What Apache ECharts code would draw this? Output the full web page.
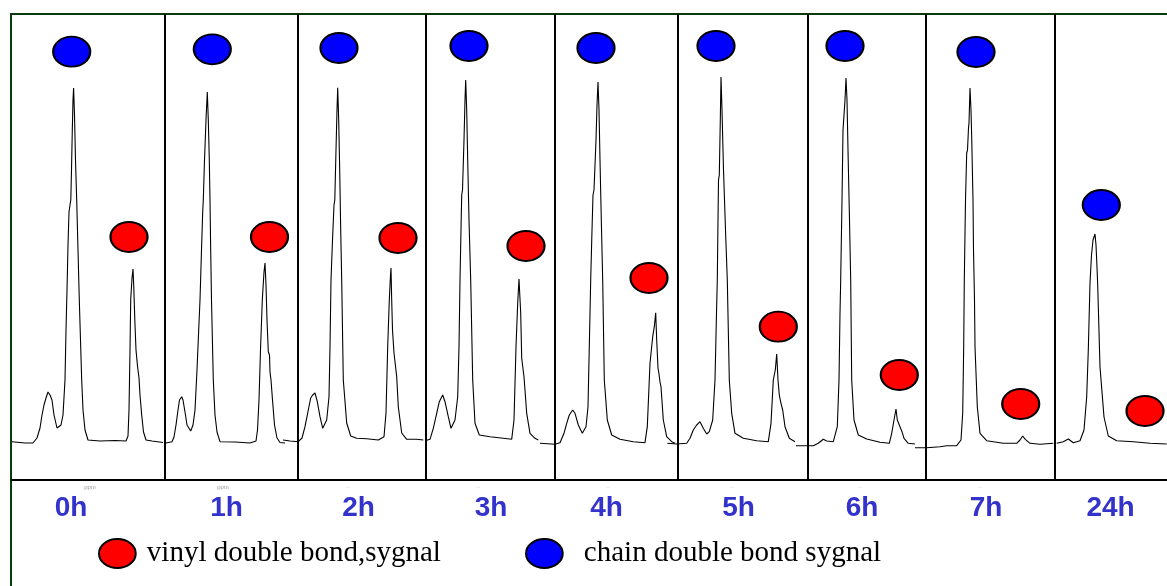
<!DOCTYPE html>
<html style="height: 100%">
<head>
    <meta charset="utf-8">
    <script src="https://cdn.jsdelivr.net/npm/echarts@6/dist/echarts.min.js"></script>
</head>
<body style="height: 100%; margin: 0; background: #fff">
    <div id="container" style="width: 1167px; height: 586px"></div>
    <script type="text/javascript">
        // trace position (x) and intensity above baseline (y)
        const spectrum0h = [[1,-1.7],[14,-3],[22,-3],[26,2],[29,12],[31,25],[33,35],[35,42],[37,48],[39,45],[41,40],[43,25],[46,12],[48,10],[50,15],[52,25],[54,60],[55,110],[56,150],[57,195],[58,228],[59,235],[59.8,240],[60.5,270],[61.3,310],[62,340],[62.6,352],[63.5,325],[64.5,280],[65.7,240],[67,190],[68.3,140],[69.5,100],[70.7,60],[72,30],[74,10],[77,0],[89,-1],[104,-0.5],[115,-1],[117,4],[118,30],[119,90],[119.7,140],[121,162],[122,171],[122.7,155],[124,115],[125,90],[126,88],[126.5,74],[127.5,72],[128,62],[129,45],[130.7,25],[132.5,8],[135,0],[141,-1],[152,-2.5]];
        const spectrum1h = [[155,-3],[161,-1.7],[163,3],[165,15],[167,30],[168.5,40],[170.7,43.3],[172,40],[174,28],[176,15],[179.7,9],[182,15],[184,30],[186,70],[187.7,110],[189,140],[190.5,190],[191.7,228],[192.3,240],[193.5,280],[195,320],[196.3,348],[197.3,320],[198.3,280],[199,240],[199.7,190],[200.5,140],[202.3,60],[204,25],[206,8],[209,-1.7],[224,-2],[239,-3],[245,-1],[246.5,10],[248,40],[249.5,90],[251.3,140],[253,168],[254,177],[255,155],[256,120],[257.3,88.3],[258.5,85],[259,68],[260,60],[261.5,40],[263.5,15],[266,2],[269,-2.5],[274,-3]];
        const spectrum2h = [[272,0],[279,-1],[287.3,-1.7],[291,2],[294,13.3],[297.3,30],[299.7,42],[301.7,45],[304,47],[306.3,38.3],[309,23.3],[311.7,11.7],[315.7,20],[318,43.3],[319,93.3],[320,160],[321.5,200],[323,235],[323.8,240],[325,290],[326,330],[326.7,352.3],[327.7,320],[328.7,270],[329.7,210],[330.7,160],[332.3,60],[335.7,17],[339.7,4],[345.7,1.7],[355.7,1.3],[367.3,0],[373,3.3],[375,27],[376.7,93.3],[378.3,140],[379.5,165],[380,172],[380.7,140],[381.5,110],[383,87],[384,85],[385.7,63.3],[387.3,33.3],[390.7,7],[395.7,0.7],[405.7,0.7],[412.3,0]];
        const spectrum3h = [[414,-0.7],[419,0.7],[422.3,11.7],[425.7,26.7],[428.3,38.3],[431.7,45],[434,38.3],[437.3,23.3],[440,11.7],[444,20],[446.7,43.3],[448,93.3],[449,160],[450,210],[450.7,245],[451.5,250],[453,300],[454,340],[454.7,360],[455.7,330],[456.7,280],[458,220],[459.7,160],[461.7,60],[464,16.7],[468.3,5],[479,3.3],[492.3,1.7],[500.7,0.7],[503,20],[505,93.3],[506.7,136.7],[508,161],[509.7,127],[510.7,81.7],[512,80],[513,63.3],[515.7,26.7],[519,6.7],[524,1.7],[527.3,0]];
        const spectrum4h = [[529,-3.3],[544,-4.3],[549,-2.7],[553,6.7],[555.7,16.7],[558.3,25],[561.7,30],[564,26.7],[567.3,15],[571.3,6.7],[575,13.3],[577,33.3],[578.3,93.3],[579.7,160],[581,210],[582,245],[583,250],[585,300],[586,335],[587,358],[588,330],[589,280],[590.3,220],[591.7,160],[593.3,60],[596.3,20],[600.7,5],[609,0.7],[622.3,-1.7],[634,-2.7],[636.3,13.3],[639,76.7],[641.7,103.3],[643.3,113.3],[644.7,127.3],[645.7,100],[647,72],[648,66],[649,58],[650,53.3],[652.3,20],[655.7,3.3],[660.7,-1.7],[664,-3.3]];
        const spectrum5h = [[656.3,-3.3],[665.7,-4],[675.7,-3.3],[679,1.7],[682.3,10],[685.7,15],[689,18.3],[692.3,11.7],[695.7,6],[698.3,8.3],[701.7,20],[704,60],[705.5,127],[706.3,160],[707,220],[707.5,260],[708.3,265],[709.3,320],[710,363],[711,330],[712.5,270],[714.5,210],[716.3,160],[718.3,60],[720.7,26.7],[724,6.7],[732.3,1.7],[745.7,-0.7],[757.3,-1.7],[760,16.7],[762.3,60],[764.3,70],[765.7,86],[767,60],[768.3,45],[769,47],[770,36.7],[771.7,30],[774,13.3],[778.3,1.7],[784,-1.7]];
        const spectrum6h = [[785,-5.7],[802.3,-5.7],[807.3,-3.3],[812.3,0.7],[815.7,-1],[822.3,-1.7],[826.3,13.3],[828,60],[829,126.7],[829.7,160],[831,240],[832,310],[833,312],[834,340],[835,362],[836,340],[837,290],[838.5,220],[839.7,160],[840.7,60],[843,20],[847.3,5],[855.7,1],[869,-2.3],[878.3,-3.3],[880.7,6.7],[883,20],[885,31],[886.3,20],[889,13.3],[891,8.3],[893,1.7],[897.3,-3.3],[904,-4]];
        const spectrum7h = [[904,-7.7],[915.7,-7.7],[929,-6.7],[935.7,-5.7],[945.7,-5.7],[950,0],[951.7,26.7],[952.7,93.3],[953.3,160],[954.5,240],[955.7,287],[956.5,290],[957.5,312],[958,317],[959,352],[960,330],[960.7,303],[962,240],[962.5,190],[963.5,140],[964,93.3],[966.3,33.3],[969,6.7],[975.7,-0.7],[992.3,-3.3],[1005.7,-3.3],[1009,0],[1011.7,4],[1014.3,0.7],[1019,-3.3],[1029,-4.3],[1042.3,-3.3]];
        const spectrum24h = [[1045.7,-3.3],[1052.3,-1.7],[1057.3,1],[1062.3,-2.7],[1069,-0.7],[1073,10],[1075.7,43.3],[1077.3,90],[1079,157],[1080.5,185],[1082,200],[1084,206],[1085,195],[1085.7,180],[1086.7,155],[1089,73],[1093,23],[1097.3,4],[1105.7,-0.7],[1122.3,-1.7],[1139,-3.3],[1155.7,-4]];

        const spectra = [spectrum0h, spectrum1h, spectrum2h, spectrum3h, spectrum4h, spectrum5h, spectrum6h, spectrum7h, spectrum24h];
        const timeLabels = ['0h', '1h', '2h', '3h', '4h', '5h', '6h', '7h', '24h'];
        const timeLabelX = [60, 215.6, 347.6, 480, 595.5, 727.5, 851, 975, 1099.5];
        const ppmMarkX = [79, 212, 337, 467, 597, 721, 849, 969];
        const ppmMarks = ['ppm', 'ppm', '··', '··', '··', '··', '··', '··'];

        // markers above the peaks
        const chainMarkers = [[60.7,388.3],[201.3,390.7],[328,392],[458,394],[585,392],[705,394],[834,394],[965,388],[1090.3,235]];
        const vinylMarkers = [[118,203],[258.5,203],[387,202],[515,194],[638,162],[767.3,113.3],[888.3,65],[1009.7,36],[1134,29]];

        const panelDividers = [154, 287, 415, 544, 667, 796.8, 915, 1044];
        const baselineLevel = -40;
        const topLevel = 426;

        const vinylName = 'vinyl double bond,sygnal';
        const chainName = 'chain double bond sygnal';
        const ellipse = 'path://M0,15A19,15,0,1,1,38,15A19,15,0,1,1,0,15Z';

        let dom = document.getElementById('container');
        let myChart = echarts.init(dom, null, { renderer: 'canvas' });

        let series = [];
        spectra.forEach((points, i) => {
            series.push({
                name: 'spectrum ' + timeLabels[i],
                type: 'line',
                data: points,
                showSymbol: false,
                symbol: 'none',
                lineStyle: { color: '#000', width: 1.1 },
                z: 2
            });
        });

        // frame: panel dividers and bottom line
        series[0].markLine = {
            silent: true,
            symbol: 'none',
            animation: false,
            label: { show: false },
            lineStyle: { color: '#000', width: 2, type: 'solid' },
            data: panelDividers.map(x => [{ coord: [x, baselineLevel] }, { coord: [x, topLevel] }])
                .concat([[{ coord: [0, baselineLevel] }, { coord: [1156, baselineLevel] }]])
        };

        series.push({
            name: vinylName,
            type: 'scatter',
            data: vinylMarkers,
            symbol: ellipse,
            symbolSize: [37, 30],
            itemStyle: { color: '#ff0000', borderColor: '#000', borderWidth: 2, opacity: 1 },
            z: 5
        });
        series.push({
            name: chainName,
            type: 'scatter',
            data: chainMarkers,
            symbol: ellipse,
            symbolSize: [37, 30],
            itemStyle: { color: '#0000ff', borderColor: '#000', borderWidth: 2, opacity: 1 },
            z: 5
        });
        series.push({
            name: 'time',
            type: 'scatter',
            symbolSize: 1,
            itemStyle: { color: 'rgba(0,0,0,0)', opacity: 1 },
            label: {
                show: true,
                position: 'inside',
                formatter: p => p.name,
                color: '#3333cc',
                textBorderWidth: 0,
                fontFamily: 'Liberation Sans',
                fontWeight: 'bold',
                fontSize: 28
            },
            data: timeLabels.map((t, i) => ({ name: t, value: [timeLabelX[i], -68] }))
        });
        series.push({
            name: 'ppm',
            type: 'scatter',
            symbolSize: 1,
            itemStyle: { color: 'rgba(0,0,0,0)', opacity: 1 },
            label: {
                show: true,
                position: 'inside',
                formatter: p => p.name,
                color: '#999',
                textBorderWidth: 0,
                fontFamily: 'Liberation Sans',
                fontSize: 6
            },
            data: ppmMarks.map((t, i) => ({ name: t, value: [ppmMarkX[i], -47] }))
        });

        let option = {
            animation: false,
            backgroundColor: '#fff',
            grid: { left: 11, right: 0, top: 14, bottom: 0 },
            xAxis: {
                type: 'value',
                position: 'top',
                min: 0,
                max: 1156,
                axisLine: { show: true, onZero: false, lineStyle: { color: '#0b3b0b', width: 2 } },
                axisTick: { show: false },
                axisLabel: { show: false },
                splitLine: { show: false }
            },
            yAxis: {
                type: 'value',
                min: -146,
                max: 426,
                axisLine: { show: true, onZero: false, lineStyle: { color: '#0b3b0b', width: 2 } },
                axisTick: { show: false },
                axisLabel: { show: false },
                splitLine: { show: false }
            },
            legend: [
                {
                    data: [{ name: vinylName, icon: ellipse }],
                    left: 98, top: 538, padding: 0,
                    itemWidth: 37, itemHeight: 29,
                    selectedMode: false,
                    itemStyle: { borderColor: '#000', borderWidth: 2 },
                    textStyle: { fontFamily: 'Liberation Serif', fontSize: 29, color: '#000', padding: [0, 0, 0, 6] }
                },
                {
                    data: [{ name: chainName, icon: ellipse }],
                    left: 525, top: 538, padding: 0,
                    itemWidth: 37, itemHeight: 29,
                    selectedMode: false,
                    itemStyle: { borderColor: '#000', borderWidth: 2 },
                    textStyle: { fontFamily: 'Liberation Serif', fontSize: 29, color: '#000', padding: [0, 0, 0, 16] }
                }
            ],
            series: series
        };

        myChart.setOption(option);
    </script>
</body>
</html>
